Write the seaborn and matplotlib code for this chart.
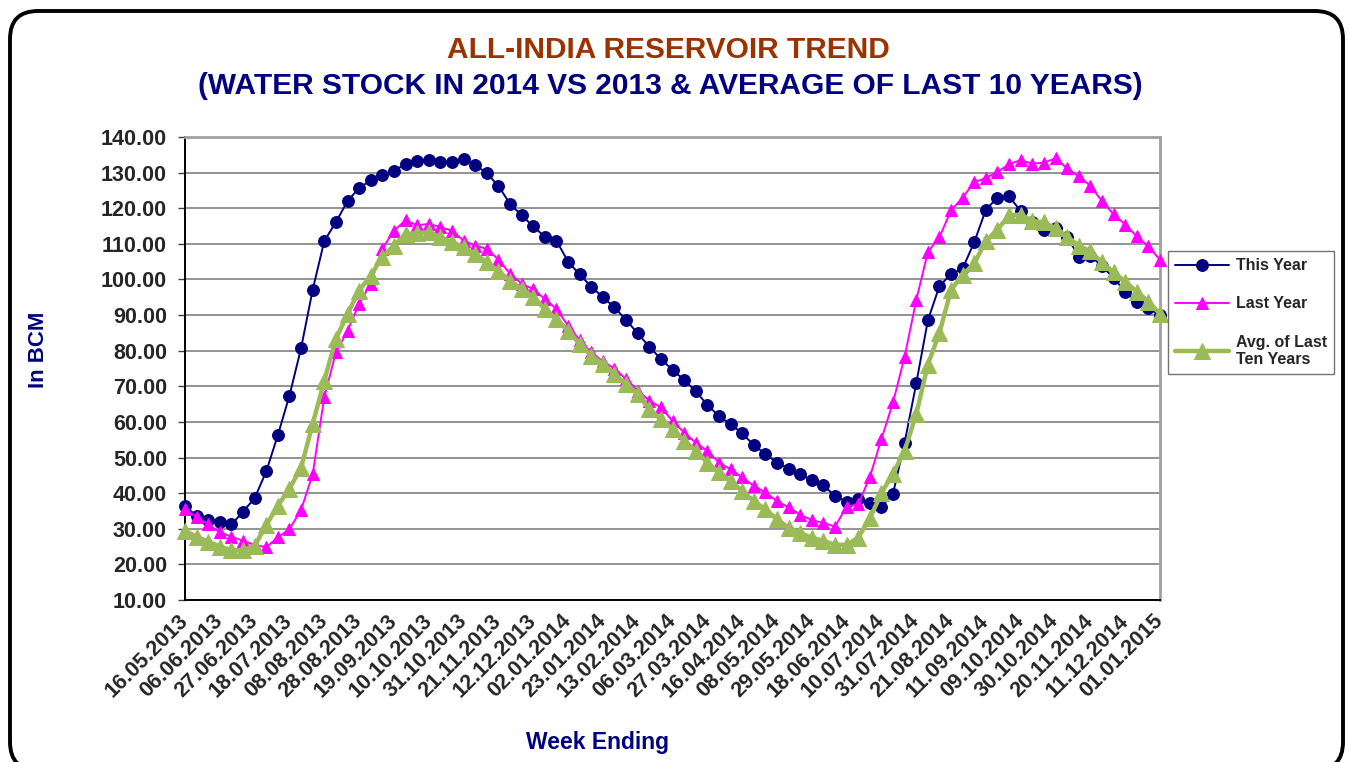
import numpy as np
import matplotlib
matplotlib.use('Agg')
import matplotlib.pyplot as plt
import seaborn as sns
from matplotlib.patches import FancyBboxPatch
from matplotlib.transforms import IdentityTransform

# labelled week-ending dates (every third weekly point)
label_dates = ['16.05.2013', '06.06.2013', '27.06.2013', '18.07.2013', '08.08.2013',
               '28.08.2013', '19.09.2013', '10.10.2013', '31.10.2013', '21.11.2013',
               '12.12.2013', '02.01.2014', '23.01.2014', '13.02.2014', '06.03.2014',
               '27.03.2014', '16.04.2014', '08.05.2014', '29.05.2014', '18.06.2014',
               '10.07.2014', '31.07.2014', '21.08.2014', '11.09.2014', '09.10.2014',
               '30.10.2014', '20.11.2014', '11.12.2014', '01.01.2015']

# water stock in BCM, one value per week
this_year = [36.4, 33.6, 32.4, 31.8, 31.2, 34.8, 38.6, 46.1, 56.3, 67.4,
             80.7, 97.1, 110.8, 116.1, 122.0, 125.7, 127.8, 129.2, 130.4, 132.5,
             133.2, 133.6, 133.0, 133.0, 133.9, 132.2, 129.8, 126.3, 121.2, 118.0,
             114.9, 112.0, 110.9, 105.0, 101.4, 98.0, 95.0, 92.2, 88.6, 84.9,
             81.1, 77.7, 74.6, 71.8, 68.6, 64.8, 61.6, 59.4, 56.8, 53.5,
             51.0, 48.6, 46.9, 45.3, 43.7, 42.2, 39.2, 37.6, 38.3, 37.1,
             36.2, 39.9, 54.2, 70.8, 88.5, 98.2, 101.5, 103.1, 110.5, 119.6,
             123.0, 123.3, 119.2, 116.0, 113.8, 114.5, 112.0, 106.4, 106.6, 103.8,
             100.4, 96.6, 93.8, 92.0, 89.9]

last_year = [35.6, 33.3, 31.3, 29.0, 27.8, 26.6, 25.5, 24.8, 27.6, 29.9,
             35.3, 45.3, 66.9, 79.5, 85.6, 93.1, 98.8, 108.6, 113.7, 116.6,
             115.2, 115.6, 114.7, 113.7, 110.9, 109.5, 108.6, 105.6, 101.6, 98.8,
             97.3, 94.5, 91.7, 87.0, 83.0, 79.5, 77.0, 75.0, 72.0, 68.8,
             66.0, 64.1, 60.3, 57.0, 54.2, 51.9, 48.6, 46.7, 44.4, 42.1,
             40.2, 37.8, 36.0, 34.0, 32.4, 31.7, 30.6, 36.2, 36.9, 44.5,
             55.2, 65.5, 78.3, 94.2, 107.7, 111.9, 119.4, 123.0, 127.3, 128.5,
             130.2, 132.4, 133.5, 132.5, 132.8, 134.0, 131.2, 129.0, 126.3, 122.0,
             118.3, 115.4, 112.1, 109.3, 105.5]

avg_ten_years = [29.4, 27.8, 26.4, 25.0, 24.0, 24.0, 25.2, 31.0, 36.5, 41.2,
                 47.2, 59.4, 71.6, 83.3, 90.3, 96.9, 101.1, 106.3, 109.5, 112.8,
                 113.0, 113.3, 111.9, 110.5, 109.1, 107.2, 104.8, 102.3, 99.7, 97.3,
                 95.0, 91.7, 88.9, 85.6, 81.9, 78.6, 76.3, 73.4, 70.6, 67.8,
                 63.6, 60.8, 58.0, 54.7, 51.9, 48.6, 45.8, 43.5, 40.6, 37.8,
                 35.5, 32.7, 30.3, 28.8, 27.5, 26.6, 25.5, 25.5, 27.5, 32.9,
                 40.0, 45.5, 51.9, 62.2, 76.1, 85.0, 97.1, 101.3, 104.5, 110.8,
                 114.0, 118.0, 118.2, 116.5, 116.0, 114.4, 112.0, 109.5, 107.9, 104.8,
                 102.0, 99.4, 96.6, 93.8, 90.3]

weeks = np.arange(len(this_year))

sns.set_style('white')
plt.rcParams['font.family'] = ['Liberation Sans', 'DejaVu Sans']
plt.rcParams['font.weight'] = 'bold'

W, H = 1349, 762
fig = plt.figure(figsize=(W / 100, H / 100), dpi=100)
ax = fig.add_axes([185 / W, 1 - 600 / H, 975 / W, 463 / H])

# rounded frame around the whole chart
frame = FancyBboxPatch((10, -8), 1333, 759, boxstyle='round,pad=0,rounding_size=28',
                       transform=IdentityTransform(), fill=False, edgecolor='black',
                       linewidth=2.8, zorder=10)
fig.add_artist(frame)

sns.lineplot(x=weeks, y=this_year, ax=ax, color='#000080', marker='o', markersize=8.5,
             markeredgecolor='#000080', linewidth=1.4, clip_on=False, zorder=3,
             label='This Year')
sns.lineplot(x=weeks, y=last_year, ax=ax, color='#FF00FF', marker='^', markersize=8.5,
             markeredgecolor='#FF00FF', linewidth=1.4, clip_on=False, zorder=4,
             label='Last Year')
sns.lineplot(x=weeks, y=avg_ten_years, ax=ax, color='#9BBB59', marker='^', markersize=11,
             markeredgecolor='#9BBB59', linewidth=3.2, clip_on=False, zorder=5,
             label='Avg. of Last\nTen Years')

ax.set_xlim(0, len(weeks) - 1)
ax.set_ylim(10, 140)
ax.set_yticks(np.arange(10, 141, 10))
ax.set_yticklabels([f'{v:.2f}' for v in np.arange(10, 141, 10)], fontsize=15.5,
                   fontweight='bold')
ax.grid(axis='y', color='#8a8a8a', linewidth=1.3)
ax.grid(axis='x', visible=False)

ax.set_xticks(weeks[::3])
ax.set_xticklabels(label_dates, rotation=45, ha='right', va='center',
                   rotation_mode='anchor', fontsize=15.5, fontweight='bold')
ax.set_xticks(weeks[::2], minor=True)
ax.tick_params(axis='x', which='major', length=0, pad=13)
ax.tick_params(axis='x', which='minor', length=5, width=1, color='#404040', direction='out')
ax.tick_params(axis='y', length=5, width=1, color='#404040', direction='out', left=True, pad=8)
ax.set_xlabel('')
ax.set_ylabel('')

for side in ['left', 'bottom']:
    ax.spines[side].set_color('black')
    ax.spines[side].set_linewidth(1.4)
for side in ['top', 'right']:
    ax.spines[side].set_color('#a0a0a0')
    ax.spines[side].set_linewidth(2)

leg = ax.legend(loc='upper left', bbox_to_anchor=(1168 / W, 1 - 251 / H),
                bbox_transform=fig.transFigure, frameon=True, fancybox=False,
                edgecolor='#505050', fontsize=11.5, handlelength=3.4, handletextpad=0.4,
                labelspacing=1.45, borderpad=0.45, borderaxespad=0)
leg.get_frame().set_linewidth(1)
for txt in leg.get_texts():
    txt.set_fontweight('bold')

fig.text(668.5 / W, 1 - 50 / H, 'ALL-INDIA RESERVOIR TREND', color='#993300',
         fontsize=21.5, fontweight='bold', ha='center', va='center')
fig.text(670 / W, 1 - 86 / H, '(WATER STOCK IN 2014 VS 2013 & AVERAGE OF LAST 10 YEARS)',
         color='#000080', fontsize=21.5, fontweight='bold', ha='center', va='center')
fig.text(38 / W, 1 - 350 / H, 'In BCM', color='#000080', fontsize=16, fontweight='bold',
         rotation=90, ha='center', va='center')
fig.text(598 / W, 1 - 743 / H, 'Week Ending', color='#000080', fontsize=16.5,
         fontweight='bold', ha='center', va='center')

fig.savefig('out.png', dpi=100)
